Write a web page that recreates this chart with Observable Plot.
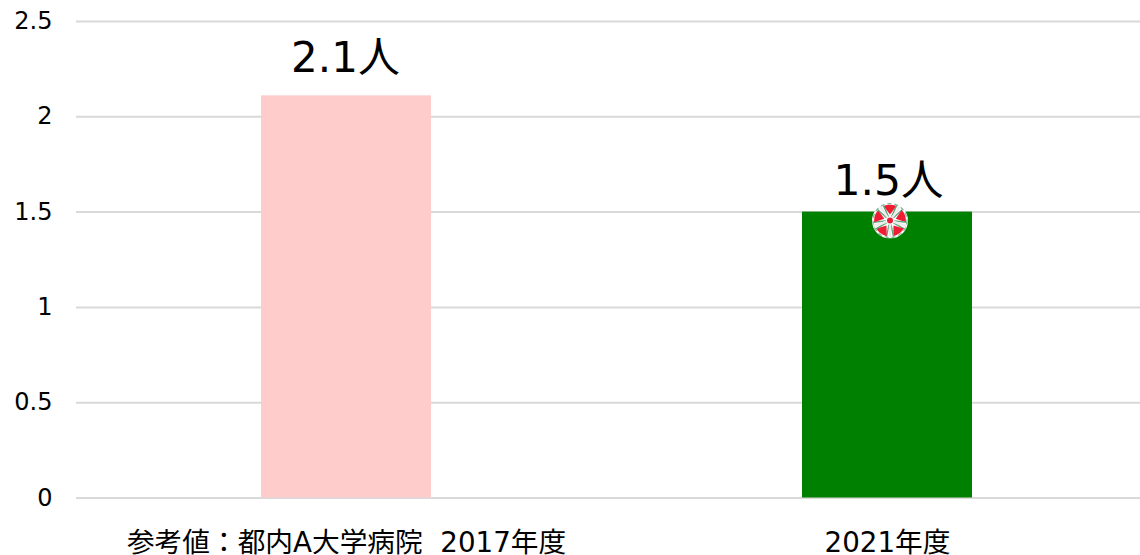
<!DOCTYPE html>
<html><head><meta charset="utf-8">
<style>html,body{margin:0;padding:0;background:#fff;overflow:hidden}svg{display:block}</style>
<script src="https://cdn.jsdelivr.net/npm/d3@7"></script>
<script src="https://cdn.jsdelivr.net/npm/@observablehq/plot@0.6"></script>
</head><body><div id="c"></div>
<script>
const categories = ["参考値：都内A大学病院  2017年度", "2021年度"];
const values = [2.11, 1.5];
const labels = ["2.1人", "1.5人"];
const colors = ["#ffcccc", "#008000"];
const ticks = [0, 0.5, 1, 1.5, 2, 2.5];
const tickLabels = ["0", "0.5", "1", "1.5", "2", "2.5"];
const font = '"DejaVu Sans","Noto Sans CJK JP",sans-serif';
const rows = categories.map((c, i) => ({c, v: values[i], l: labels[i], col: colors[i]}));
const emblemPetals = [0, 72, 144, 216, 288];
const emblem = 'data:image/svg+xml,' + encodeURIComponent(
  `<svg xmlns="http://www.w3.org/2000/svg" viewBox="-18 -18 36 36"><circle r="18" fill="#fff"/><circle r="17" fill="none" stroke="#7fb08f" stroke-width="1.2" stroke-dasharray="4 3"/>` +
  emblemPetals.map(a => `<g transform="rotate(${a})"><path d="M0 -6L-6.5 -14.5A16 16 0 0 1 6.5 -14.5Z" fill="#f01c34"/></g><g transform="rotate(${a+36})"><path d="M-1 -4L-3.5 -16M1 -4L3.5 -16" stroke="#5ea678" stroke-width="1.4" fill="none"/><path d="M0 -4V-17" stroke="#ececec" stroke-width="2.4"/></g>`).join("") +
  `<circle r="3" fill="#f01c34"/></svg>`);
const chart = Plot.plot({
  width: 1140, height: 555,
  marginLeft: 76, marginRight: 0, marginTop: 21, marginBottom: 57.5,
  style: {fontFamily: font, background: "#fff", color: "#000"},
  x: {domain: categories, type: "band", range: [75.5, 1158], paddingInner: 0.686, paddingOuter: 0.343, align: 0.5, label: null, tickSize: 0, tickPadding: 0},
  y: {domain: [0, 2.5], label: null, ticks, tickFormat: (d) => tickLabels[ticks.indexOf(d)]},
  marks: [
    Plot.gridY(ticks, {stroke: "#d9d9d9", strokeOpacity: 1, strokeWidth: 2}),
    Plot.barY(rows, {x: "c", y: "v", fill: "col"}),
    Plot.text(rows.slice(0, 1), {x: "c", y: "v", text: "l", dy: -37, dx: -1, fontSize: 42, fill: "#000", lineAnchor: "middle"}),
    Plot.text(rows.slice(1), {x: "c", y: "v", text: "l", dy: -31, dx: 1, fontSize: 42.5, fill: "#000", lineAnchor: "middle"}),
    Plot.image(rows.slice(1), {x: "c", y: "v", src: () => emblem, width: 36, height: 36, dx: 2.5, dy: 8.5}),
    Plot.axisY({ticks, tickFormat: (d) => tickLabels[ticks.indexOf(d)], tickSize: 0, tickPadding: 24, fontSize: 24, textAnchor: "end", label: null}),
    Plot.axisX({tickSize: 0, tickPadding: 34.5, fontSize: 27.7, label: null})
  ]
});
document.getElementById("c").append(chart);
</script></body></html>
